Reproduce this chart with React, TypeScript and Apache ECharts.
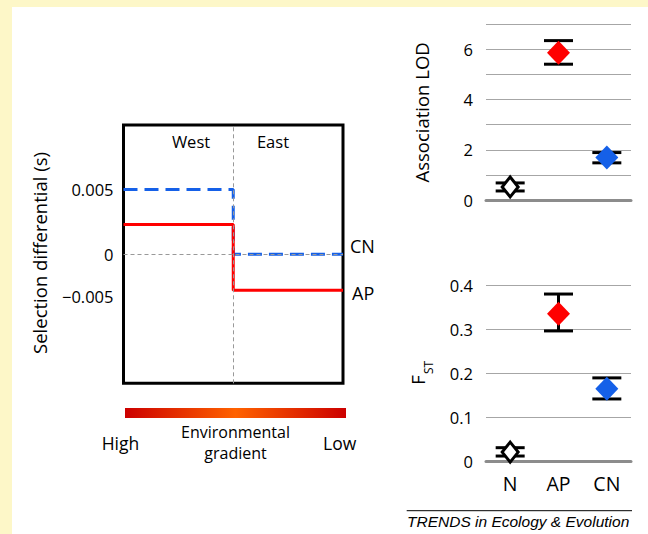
import React, { useEffect, useRef } from "react";
import * as echarts from "echarts";

// ---- Data ----
const CATEGORIES = ["N", "AP", "CN"];
const CAT_COLORS = ["#FFFFFF", "#FF0000", "#1560E8"];

const LOD_VALUES = [0.52, 5.87, 1.69];
const LOD_LOW = [0.36, 5.41, 1.48];
const LOD_HIGH = [0.68, 6.35, 1.89];

const FST_VALUES = [0.021, 0.336, 0.165];
const FST_LOW = [0.012, 0.297, 0.142];
const FST_HIGH = [0.031, 0.381, 0.19];

// Selection differential: [west, east]
const REGION_X = [0, 0.5, 1];
const CN_SELECTION = [0.005, 0];
const AP_SELECTION = [0.0023, -0.0028];
const REGION_LABELS = ["West", "East"];

// Left panel tick labels (schematic placement as in the figure)
const LEFT_TICK_LABELS = ["0.005", "0", "\u22120.005"];
const LEFT_TICK_AT = [0.005, 0, -0.0033];

const FONT = "'Open Sans', sans-serif";

function stepPoints(vals: number[]) {
  return [
    [REGION_X[0], vals[0]],
    [REGION_X[1], vals[0]],
    [REGION_X[1], vals[1]],
    [REGION_X[2], vals[1]],
  ];
}

function errorSeries(xAxisIndex: number, yAxisIndex: number, lo: number[], hi: number[]) {
  return {
    type: "custom",
    xAxisIndex,
    yAxisIndex,
    z: 2,
    silent: true,
    encode: { x: 0, y: [1, 2] },
    data: lo.map((l, i) => [i, l, hi[i]]),
    renderItem: (params: any, api: any) => {
      const x = api.value(0);
      const pLo = api.coord([x, api.value(1)]);
      const pHi = api.coord([x, api.value(2)]);
      const hw = 14.5;
      const style = { stroke: "#000", lineWidth: 3 };
      return {
        type: "group",
        children: [
          { type: "line", shape: { x1: pLo[0], y1: pLo[1], x2: pHi[0], y2: pHi[1] }, style },
          { type: "line", shape: { x1: pLo[0] - hw, y1: pLo[1], x2: pLo[0] + hw, y2: pLo[1] }, style },
          { type: "line", shape: { x1: pHi[0] - hw, y1: pHi[1], x2: pHi[0] + hw, y2: pHi[1] }, style },
        ],
      };
    },
  };
}

function pointSeries(xAxisIndex: number, yAxisIndex: number, vals: number[]) {
  return {
    type: "scatter",
    xAxisIndex,
    yAxisIndex,
    z: 5,
    silent: true,
    symbol: "diamond",
    itemStyle: { opacity: 1 },
    data: vals.map((v, i) =>
      i === 0
        ? {
            value: [i, v],
            symbolSize: [16, 20],
            itemStyle: { color: CAT_COLORS[i], borderColor: "#000", borderWidth: 3, opacity: 1 },
          }
        : { value: [i, v], symbolSize: [23, 24], itemStyle: { color: CAT_COLORS[i], borderWidth: 0, opacity: 1 } }
    ),
  };
}

export default function App() {
  const ref = useRef<HTMLDivElement>(null);

  useEffect(() => {
    if (!ref.current) return;
    const chart = echarts.init(ref.current, undefined, { renderer: "svg" });

    const rightYLabel = { fontFamily: FONT, fontSize: 16.5, color: "#000", margin: 13 };
    const splitLine = { show: true, lineStyle: { color: "#A6A6A6", width: 1 } };

    const option: any = {
      animation: false,
      backgroundColor: "transparent",
      textStyle: { fontFamily: FONT },
      grid: [
        { left: 123.5, top: 125, width: 219.5, height: 258.3, show: true, borderColor: "#000", borderWidth: 3, backgroundColor: "transparent" },
        { left: 486, top: 24.3, width: 145, height: 175.7 },
        { left: 486, top: 285.7, width: 145, height: 175.6 },
      ],
      xAxis: [
        { type: "value", gridIndex: 0, min: 0, max: 1, show: false },
        {
          type: "category",
          gridIndex: 1,
          data: CATEGORIES,
          axisLine: { show: true, lineStyle: { color: "#8C8C8C", width: 3 } },
          axisTick: { show: false },
          axisLabel: { show: false },
        },
        {
          type: "category",
          gridIndex: 2,
          data: CATEGORIES,
          axisLine: { show: true, lineStyle: { color: "#8C8C8C", width: 3 } },
          axisTick: { show: false },
          axisLabel: { fontFamily: FONT, fontSize: 19.5, color: "#000", margin: 12 },
        },
      ],
      yAxis: [
        {
          type: "value",
          gridIndex: 0,
          min: -0.01,
          max: 0.01,
          axisLine: { show: false },
          axisTick: { show: false },
          splitLine: { show: false },
          axisLabel: {
            fontFamily: FONT,
            fontSize: 16.5,
            color: "#000",
            margin: 10,
            customValues: LEFT_TICK_AT,
            formatter: (v: number) => {
              let best = 0;
              LEFT_TICK_AT.forEach((t, i) => {
                if (Math.abs(t - v) < Math.abs(LEFT_TICK_AT[best] - v)) best = i;
              });
              return LEFT_TICK_LABELS[best];
            },
          },
        },
        {
          type: "value",
          gridIndex: 1,
          min: 0,
          max: 7,
          interval: 1,
          axisLine: { show: false },
          axisTick: { show: false },
          splitLine,
          axisLabel: { ...rightYLabel, formatter: (v: number) => (v % 2 === 0 ? String(v) : "") },
        },
        {
          type: "value",
          gridIndex: 2,
          min: 0,
          max: 0.4,
          interval: 0.1,
          axisLine: { show: false },
          axisTick: { show: false },
          splitLine,
          axisLabel: { ...rightYLabel, formatter: (v: number) => (v === 0 ? "0" : v.toFixed(1)) },
        },
      ],
      series: [
        {
          type: "line",
          xAxisIndex: 0,
          yAxisIndex: 0,
          data: [],
          z: 1,
          silent: true,
          markLine: {
            symbol: "none",
            silent: true,
            label: { show: false },
            lineStyle: { color: "#999", width: 1, type: [4, 3] },
            data: [{ xAxis: REGION_X[1] }, { yAxis: 0 }],
          },
        },
        {
          name: "CN",
          type: "line",
          xAxisIndex: 0,
          yAxisIndex: 0,
          z: 3,
          silent: true,
          symbol: "none",
          data: stepPoints(CN_SELECTION),
          lineStyle: { color: "#1560E8", width: 3, type: [14, 7] },
        },
        {
          name: "AP",
          type: "line",
          xAxisIndex: 0,
          yAxisIndex: 0,
          z: 4,
          silent: true,
          symbol: "none",
          data: stepPoints(AP_SELECTION),
          lineStyle: { color: "#FF0000", width: 3 },
        },
        errorSeries(1, 1, LOD_LOW, LOD_HIGH),
        pointSeries(1, 1, LOD_VALUES),
        errorSeries(2, 2, FST_LOW, FST_HIGH),
        pointSeries(2, 2, FST_VALUES),
      ],
      graphic: [
        // axis names
        {
          type: "text",
          x: 39,
          y: 253,
          rotation: Math.PI / 2,
          style: { text: "Selection differential (s)", fontFamily: FONT, fontSize: 18.5, fill: "#000", align: "center", verticalAlign: "middle" },
        },
        {
          type: "text",
          x: 421.7,
          y: 112.4,
          rotation: Math.PI / 2,
          style: { text: "Association LOD", fontFamily: FONT, fontSize: 18.5, fill: "#000", align: "center", verticalAlign: "middle" },
        },
        {
          type: "text",
          x: 417.5,
          y: 380,
          rotation: Math.PI / 2,
          style: { text: "F", fontFamily: FONT, fontSize: 18.5, fill: "#000", align: "center", verticalAlign: "middle" },
        },
        {
          type: "text",
          x: 428.5,
          y: 367.5,
          rotation: Math.PI / 2,
          style: { text: "ST", fontFamily: FONT, fontSize: 12, fill: "#000", align: "center", verticalAlign: "middle" },
        },
        // region labels
        {
          type: "text",
          x: 191,
          y: 141.7,
          style: { text: REGION_LABELS[0], fontFamily: FONT, fontSize: 16.5, fill: "#000", align: "center", verticalAlign: "middle" },
        },
        {
          type: "text",
          x: 273,
          y: 141.7,
          style: { text: REGION_LABELS[1], fontFamily: FONT, fontSize: 16.5, fill: "#000", align: "center", verticalAlign: "middle" },
        },
        // line labels
        {
          type: "text",
          x: 350,
          y: 245.7,
          style: { text: "CN", fontFamily: FONT, fontSize: 18, fill: "#000", align: "left", verticalAlign: "middle" },
        },
        {
          type: "text",
          x: 352,
          y: 293.3,
          style: { text: "AP", fontFamily: FONT, fontSize: 18, fill: "#000", align: "left", verticalAlign: "middle" },
        },
        // gradient bar
        {
          type: "rect",
          shape: { x: 125, y: 408, width: 221, height: 10 },
          style: {
            fill: new echarts.graphic.LinearGradient(0, 0, 1, 0, [
              { offset: 0, color: "#CC0000" },
              { offset: 0.5, color: "#FF6200" },
              { offset: 1, color: "#CC0000" },
            ]),
          },
        },
        {
          type: "text",
          x: 120.5,
          y: 443.3,
          style: { text: "High", fontFamily: FONT, fontSize: 17.5, fill: "#000", align: "center", verticalAlign: "middle" },
        },
        {
          type: "text",
          x: 339.7,
          y: 443.3,
          style: { text: "Low", fontFamily: FONT, fontSize: 17.5, fill: "#000", align: "center", verticalAlign: "middle" },
        },
        {
          type: "text",
          x: 235.5,
          y: 432,
          style: { text: "Environmental", fontFamily: FONT, fontSize: 16, fill: "#000", align: "center", verticalAlign: "middle" },
        },
        {
          type: "text",
          x: 235.5,
          y: 453.3,
          style: { text: "gradient", fontFamily: FONT, fontSize: 16, fill: "#000", align: "center", verticalAlign: "middle" },
        },
        // footer
        {
          type: "line",
          shape: { x1: 406.7, y1: 510.7, x2: 632, y2: 510.7 },
          style: { stroke: "#000", lineWidth: 1 },
        },
        {
          type: "text",
          x: 407,
          y: 521.5,
          style: {
            text: "TRENDS in Ecology & Evolution",
            fontFamily: "'Liberation Sans', Arial, sans-serif",
            fontStyle: "italic",
            fontSize: 15.5,
            fill: "#000",
            align: "left",
            verticalAlign: "middle",
          },
        },
      ],
    };

    chart.setOption(option);
    return () => chart.dispose();
  }, []);

  return (
    <div style={{ position: "fixed", left: 0, top: 0, width: 648, height: 534, background: "#FDF7C8" }}>
      <div style={{ position: "absolute", left: 12, top: 7, right: 0, bottom: 0, background: "#FFFFFF" }} />
      <div ref={ref} style={{ position: "absolute", left: 0, top: 0, width: 648, height: 534 }} />
    </div>
  );
}
